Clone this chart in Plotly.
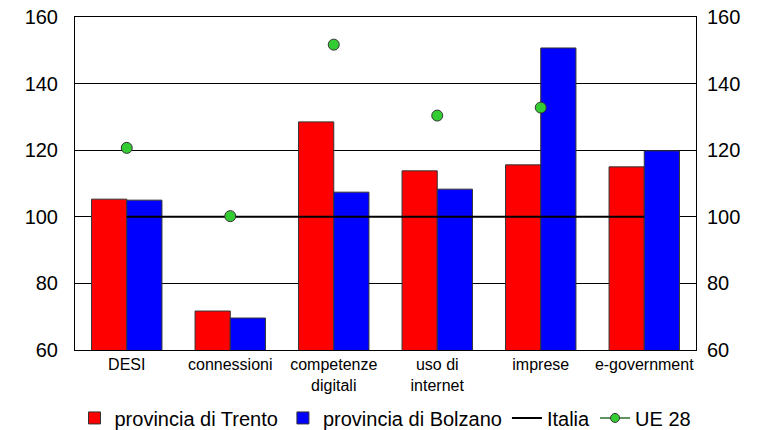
import plotly.graph_objects as go

categories = ["DESI", "connessioni", "competenze<br>digitali", "uso di<br>internet", "imprese", "e-government"]
trento = [105.3, 71.7, 128.5, 113.8, 115.6, 115.0]
bolzano = [105.0, 69.6, 107.4, 108.3, 150.7, 119.8]
italia = [100, 100, 100, 100, 100, 100]
ue28 = [120.7, 100.2, 151.7, 130.4, 132.8, None]
yticks = [60, 80, 100, 120, 140, 160]

FONT = "Liberation Sans, Arial, sans-serif"

fig = go.Figure()
fig.add_trace(go.Bar(x=categories, y=trento, name="provincia di Trento",
                     marker=dict(color="#ff0000", line=dict(color="#333333", width=1))))
fig.add_trace(go.Bar(x=categories, y=bolzano, name="provincia di Bolzano",
                     marker=dict(color="#0000ff", line=dict(color="#333333", width=1))))
fig.add_trace(go.Scatter(x=categories, y=italia, name="Italia", mode="lines",
                         line=dict(color="black", width=2)))
fig.add_trace(go.Scatter(x=categories, y=ue28, name="UE 28", mode="markers", showlegend=False,
                         marker=dict(color="#33cc33", size=11, line=dict(color="#333333", width=1))))
fig.add_trace(go.Scatter(x=[None], y=[None], name="UE 28", mode="lines+markers",
                         line=dict(color="#2d6e2d", width=1.5),
                         marker=dict(color="#33cc33", size=9, line=dict(color="#333333", width=1))))
fig.add_trace(go.Scatter(x=categories, y=italia, yaxis="y2", mode="lines", showlegend=False,
                         hoverinfo="skip", line=dict(color="rgba(0,0,0,0)", width=0)))

fig.update_layout(
    width=757, height=422,
    margin=dict(l=67, r=69, t=9, b=80, autoexpand=False),
    paper_bgcolor="white", plot_bgcolor="white",
    font=dict(family=FONT, color="black", size=20),
    barmode="group", bargap=0.32, bargroupgap=0,
    showlegend=True,
    legend=dict(orientation="h", x=0.5, xanchor="center", y=-0.204, yanchor="middle",
                font=dict(size=20), itemwidth=30, tracegroupgap=0),
    xaxis=dict(showline=True, linecolor="black", linewidth=1, mirror=True,
               tickfont=dict(size=16), ticks="", showgrid=False),
    yaxis=dict(range=[60, 160], tickvals=yticks, showgrid=True, gridcolor="black", gridwidth=1,
               showline=True, linecolor="black", linewidth=1, mirror=True, ticks="",
               tickfont=dict(size=20), zeroline=False, ticklabelstandoff=12,
               ticklabeloverflow="allow"),
    yaxis2=dict(range=[60, 160], tickvals=yticks, overlaying="y", side="right", showgrid=False,
                ticks="", tickfont=dict(size=20), zeroline=False, showline=False,
                ticklabelstandoff=10, ticklabeloverflow="allow"),
)

fig.write_html("out.html")
